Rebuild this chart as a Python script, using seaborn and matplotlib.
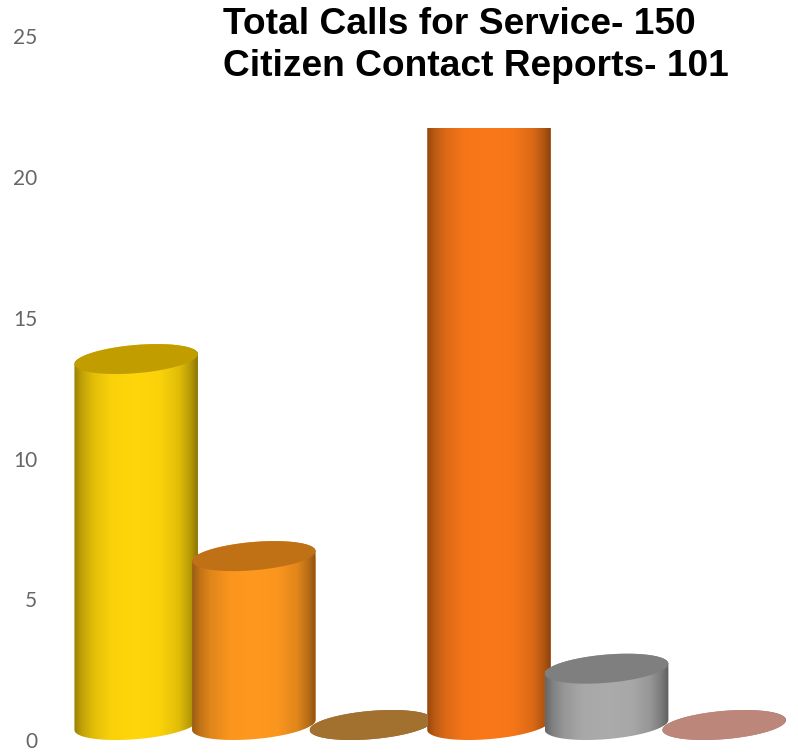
import numpy as np
import pandas as pd
import matplotlib
matplotlib.use('Agg')
import matplotlib.pyplot as plt
import seaborn as sns
from matplotlib.colors import LinearSegmentedColormap, to_rgb
from matplotlib.patches import Polygon, Rectangle
from matplotlib.transforms import ScaledTranslation

# bars have no labels in the picture, only colours
categories = ['a', 'b', 'c', 'd', 'e', 'f']
values = [13, 6, 0, 22, 2, 0]
side_colors = ['#FFD60A', '#FF981E', '#A2702F', '#FA7819', '#ABABAB', '#BC867A']
cap_colors = ['#C29D00', '#C07015', '#A2702F', '#BC5A12', '#7F7F7F', '#BC867A']
y_ticks = [0, 5, 10, 15, 20, 25]
title_lines = ['Total Calls for Service- 150', 'Citizen Contact Reports- 101']

W, H = 798, 753
PX_PER_UNIT = 28.15
SPACING = 117.6
FIRST_X = 136.2
BASE_Y = 725

df = pd.DataFrame({'category': categories, 'value': values})

sns.set_style('white')
plt.rcParams['font.family'] = ['Lato', 'DejaVu Sans']

fig = plt.figure(figsize=(W / 100, H / 100), dpi=100)
ax = fig.add_axes([38 / W, 0, 1 - 38 / W, 1])

sns.barplot(data=df, x='category', y='value', hue='category', palette=side_colors,
            width=123.5 / SPACING, legend=False, saturation=1, ax=ax)


# slanted ellipse for the round ends of the cylinders
def ellipse(cx, cy, hw, start, stop):
    u = np.linspace(start, stop, 80)
    return np.column_stack([cx + hw * np.cos(u),
                            cy + 15 / PX_PER_UNIT * np.sin(u + np.arcsin(1 / 3))])


# brightness across a cylinder, darker at the edges
shade = [(0, 0.6), (0.06, 0.75), (0.15, 0.88), (0.3, 0.98), (0.5, 1.0),
         (0.7, 0.98), (0.85, 0.88), (0.94, 0.72), (1, 0.55)]
for i, bar in enumerate(ax.patches[:len(values)]):
    cx = bar.get_x() + bar.get_width() / 2
    hw = bar.get_width() / 2
    top = bar.get_height()
    z = 2 + i

    body = Polygon(np.vstack([ellipse(cx, 0, hw, np.pi, 2 * np.pi),
                              ellipse(cx, top, hw, 0, np.pi)]),
                   closed=True, transform=ax.transData)
    bar.set_clip_path(body)
    bar.set_zorder(z)

    base = np.array(to_rgb(side_colors[i]))
    cmap = LinearSegmentedColormap.from_list('side', [(p, base * s) for p, s in shade])
    im = ax.imshow(np.linspace(0, 1, 256).reshape(1, -1), cmap=cmap, aspect='auto',
                   extent=[cx - hw, cx + hw, -1, top + 1], zorder=z + 0.1)
    im.set_clip_path(body)

    ax.add_patch(Polygon(ellipse(cx, top, hw, 0, 2 * np.pi), closed=True,
                         facecolor=cap_colors[i], edgecolor='none', zorder=z + 0.2))

ax.set_xlim((38 - FIRST_X) / SPACING, (W - FIRST_X) / SPACING)
ax.set_ylim(-(H - BASE_Y) / PX_PER_UNIT, BASE_Y / PX_PER_UNIT)
ax.set_xlabel('')
ax.set_ylabel('')
ax.set_xticks([])
ax.set_yticks(y_ticks)
ax.tick_params(axis='y', length=0, pad=0.7, labelsize=15, labelcolor='#666666')
sns.despine(ax=ax, left=True, bottom=True, top=True, right=True)
ax.patch.set_alpha(0)

# labels sit a bit lower than the values they belong to
down = ScaledTranslation(0, -15 / 100, fig.dpi_scale_trans)
for lab in ax.get_yticklabels():
    lab.set_transform(lab.get_transform() + down)

# white box behind the title cuts off the tall bar
ax.add_patch(Rectangle((222 / W, 1 - 128 / H), 1 - 222 / W, 128 / H, transform=fig.transFigure,
                       facecolor='white', edgecolor='none', zorder=50, clip_on=False))
for line, y in zip(title_lines, [24.5, 67]):
    fig.text(223 / W, 1 - y / H, line, family='Liberation Sans', fontweight='bold',
             fontsize=26.75, color='black', va='center', ha='left', zorder=60)

fig.savefig('out.png', dpi=100)
